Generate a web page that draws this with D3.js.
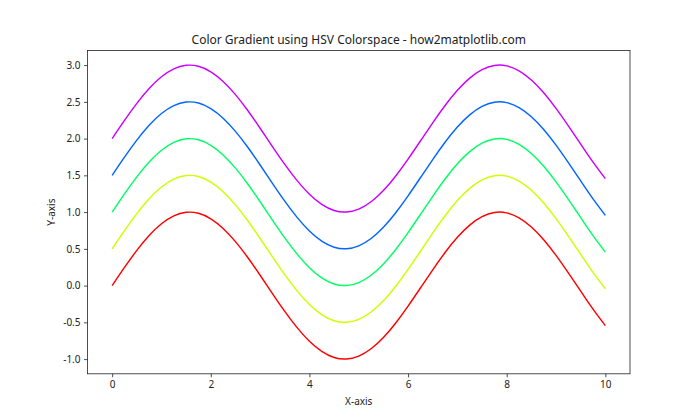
<!DOCTYPE html>
<html><head><meta charset="utf-8">
<script src="https://cdn.jsdelivr.net/npm/d3@7"></script>
<style>body{margin:0;background:#fff}svg text{font-family:"Noto Sans","Open Sans",sans-serif;fill:#222}</style>
</head><body>
<script>
const xValues = [0,0.25,0.5,0.75,1,1.25,1.5,1.75,2,2.25,2.5,2.75,3,3.25,3.5,3.75,4,4.25,4.5,4.75,5,5.25,5.5,5.75,6,6.25,6.5,6.75,7,7.25,7.5,7.75,8,8.25,8.5,8.75,9,9.25,9.5,9.75,10];
const series0 = [0,0.247,0.479,0.682,0.841,0.949,0.997,0.984,0.909,0.778,0.598,0.382,0.141,-0.108,-0.351,-0.572,-0.757,-0.895,-0.978,-0.999,-0.959,-0.859,-0.706,-0.508,-0.279,-0.033,0.215,0.450,0.657,0.823,0.938,0.995,0.989,0.923,0.798,0.625,0.412,0.174,-0.075,-0.320,-0.544];
const series1 = [0.500,0.747,0.979,1.182,1.341,1.449,1.497,1.484,1.409,1.278,1.098,0.882,0.641,0.392,0.149,-0.072,-0.257,-0.395,-0.478,-0.499,-0.459,-0.359,-0.206,-0.008,0.221,0.467,0.715,0.950,1.157,1.323,1.438,1.495,1.489,1.423,1.298,1.125,0.912,0.674,0.425,0.180,-0.044];
const series2 = [1.000,1.247,1.479,1.682,1.841,1.949,1.997,1.984,1.909,1.778,1.598,1.382,1.141,0.892,0.649,0.428,0.243,0.105,0.022,0.001,0.041,0.141,0.294,0.492,0.721,0.967,1.215,1.450,1.657,1.823,1.938,1.995,1.989,1.923,1.798,1.625,1.412,1.174,0.925,0.680,0.456];
const series3 = [1.500,1.747,1.979,2.182,2.341,2.449,2.497,2.484,2.409,2.278,2.098,1.882,1.641,1.392,1.149,0.928,0.743,0.605,0.522,0.501,0.541,0.641,0.794,0.992,1.221,1.467,1.715,1.950,2.157,2.323,2.438,2.495,2.489,2.423,2.298,2.125,1.912,1.674,1.425,1.180,0.956];
const series4 = [2.000,2.247,2.479,2.682,2.841,2.949,2.997,2.984,2.909,2.778,2.598,2.382,2.141,1.892,1.649,1.428,1.243,1.105,1.022,1.001,1.041,1.141,1.294,1.492,1.721,1.967,2.215,2.450,2.657,2.823,2.938,2.995,2.989,2.923,2.798,2.625,2.412,2.174,1.925,1.680,1.456];
const seriesColors = ["#ff0000","#ccff00","#00ff66","#0066ff","#cc00ff"];
const xTicks = [0,2,4,6,8,10];
const yTicks = [-1.0,-0.5,0.0,0.5,1.0,1.5,2.0,2.5,3.0];
const titleText = "Color Gradient using HSV Colorspace - how2matplotlib.com";

const W=700,H=420, L=87.5, R=630, T=50.4, B=373.8;
const svg=d3.select("body").append("svg").attr("width",W).attr("height",H);
const x=d3.scaleLinear().domain([-0.5,10.5]).range([L,R]);
const y=d3.scaleLinear().domain([-1.2,3.2]).range([B,T]);
const all=[series0,series1,series2,series3,series4];
const line=d3.line().x((d,i)=>x(xValues[i])).y(d=>y(d)).curve(d3.curveNatural);
all.forEach((s,k)=>{
  svg.append("path").attr("d",line(s)).attr("fill","none").attr("stroke",seriesColors[k]).attr("stroke-width",1.45);
});
const xa=svg.append("g").attr("transform",`translate(0,${B})`).call(d3.axisBottom(x).tickValues(xTicks).tickFormat(d3.format("d")).tickSize(3.5).tickPadding(3.5));
const ya=svg.append("g").attr("transform",`translate(${L},0)`).call(d3.axisLeft(y).tickValues(yTicks).tickFormat(d=>d3.format(".1f")(d).replace("−","-")).tickSize(3.5).tickPadding(3.5));
[xa,ya].forEach(a=>{a.select(".domain").remove();a.selectAll("line").attr("stroke","#222").attr("stroke-width",0.8);a.selectAll("text").attr("font-size",10).attr("fill","#222").attr("font-family",'"Noto Sans","Open Sans",sans-serif');});
svg.append("rect").attr("x",L).attr("y",T).attr("width",R-L).attr("height",B-T).attr("fill","none").attr("stroke","#222").attr("stroke-width",0.8);
svg.append("text").attr("x",(L+R)/2).attr("y",T-6).attr("text-anchor","middle").attr("font-size",12).text(titleText);
svg.append("text").attr("x",(L+R)/2).attr("y",405).attr("text-anchor","middle").attr("font-size",10).text("X-axis");
svg.append("text").attr("transform",`translate(55,${(T+B)/2}) rotate(-90)`).attr("text-anchor","middle").attr("font-size",10).text("Y-axis");
</script>
</body></html>
